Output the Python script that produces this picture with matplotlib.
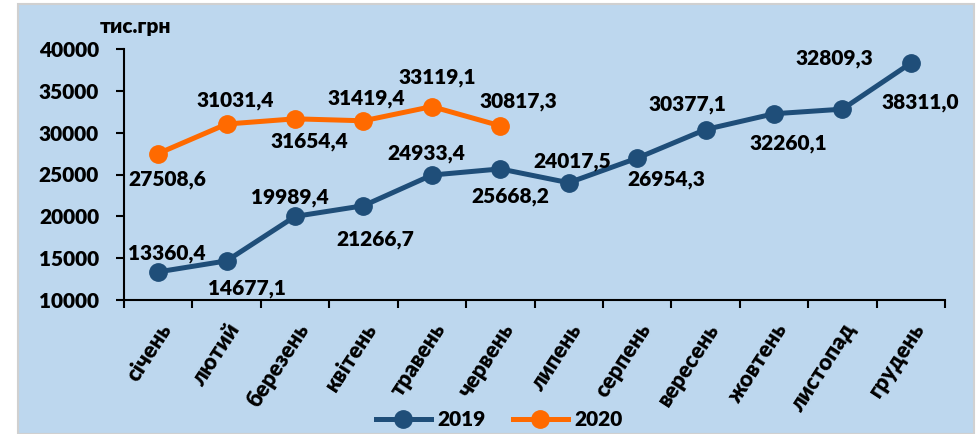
import numpy as np
import matplotlib.pyplot as plt
from matplotlib.patches import Rectangle

plt.rcParams['font.family'] = ['Lato', 'DejaVu Sans']
plt.rcParams['font.weight'] = 800

months = ['січень', 'лютий', 'березень', 'квітень', 'травень', 'червень',
          'липень', 'серпень', 'вересень', 'жовтень', 'листопад', 'грудень']
values_2019 = [13360.4, 14677.1, 19989.4, 21266.7, 24933.4, 25668.2,
               24017.5, 26954.3, 30377.1, 32260.1, 32809.3, 38311.0]
values_2020 = [27508.6, 31031.4, 31654.4, 31419.4, 33119.1, 30817.3]

# label offsets in pixels (dx, dy) - just where the labels sit in the picture
offs_2019 = [(9, 18), (20, -28), (-5, 19), (12, -34), (-6, 22), (10, -28),
             (4, 21), (29, -21), (-18, 25), (14, -30), (-8, 51), (9, -39)]
offs_2020 = [(9, -26), (9, 24), (14, -23), (3, 22), (5, 29), (18, 24)]

bg = '#BDD7EE'
c2019 = '#1F4E79'
c2020 = '#FF6A00'
fs = 15
fw = 800

fig = plt.figure(figsize=(9.79, 4.34), dpi=100)
fig.patch.set_facecolor('white')
fig.patches.append(Rectangle((18 / 979, 0), 956 / 979, 1 - 4 / 434,
                             transform=fig.transFigure, facecolor=bg,
                             edgecolor='#D0D0D0', linewidth=1.5, zorder=-10))

ax = fig.add_axes([124 / 979, 1 - 300 / 434, (945 - 124) / 979, (300 - 49) / 434])
ax.set_facecolor('none')

x = np.arange(len(months))
ax.plot(x, values_2019, color=c2019, lw=3.6, marker='o', ms=12.5, label='2019')
ax.plot(x[:len(values_2020)], values_2020, color=c2020, lw=3.6, marker='o',
        ms=12.5, label='2020')

def fmt(v):
    return f'{v:.1f}'.replace('.', ',')

for xi, v, (dx, dy) in zip(x, values_2019, offs_2019):
    ax.annotate(fmt(v), (xi, v), xytext=(dx, dy), textcoords='offset pixels',
                ha='center', va='center', fontsize=fs, fontweight=fw)
for xi, v, (dx, dy) in zip(x, values_2020, offs_2020):
    ax.annotate(fmt(v), (xi, v), xytext=(dx, dy), textcoords='offset pixels',
                ha='center', va='center', fontsize=fs, fontweight=fw)

ax.set_xlim(-0.5, len(months) - 0.5)
ax.set_ylim(10000, 40000)
ax.set_yticks(np.arange(10000, 40001, 5000))
ax.set_yticklabels([str(t) for t in range(10000, 40001, 5000)], fontsize=fs,
                   fontweight=fw)
ax.set_xticks(np.arange(-0.5, len(months), 1.0))
ax.set_xticklabels([])
ax.set_xticks(x, minor=True)
ax.set_xticklabels(months, minor=True, rotation=57, ha='right',
                   rotation_mode='anchor', fontsize=16, fontweight=fw)
ax.tick_params(axis='x', which='minor', length=0, pad=14)
ax.tick_params(axis='x', which='major', length=6, width=1.5, direction='out')
ax.tick_params(axis='y', length=6, width=1.5, direction='out', pad=12)
for s in ['top', 'right']:
    ax.spines[s].set_visible(False)
for s in ['left', 'bottom']:
    ax.spines[s].set_linewidth(1.5)

fig.text(135 / 979, 1 - 27 / 434, 'тис.грн', ha='center', va='center',
         fontsize=fs, fontweight=fw)

fig.legend(loc='center', bbox_to_anchor=(499 / 979, 1 - 420 / 434), ncol=2,
           frameon=False, handlelength=2.65, columnspacing=1.3, handletextpad=0.3,
           prop={'weight': fw, 'size': fs})

fig.savefig('out.png', dpi=100, facecolor=fig.get_facecolor())
